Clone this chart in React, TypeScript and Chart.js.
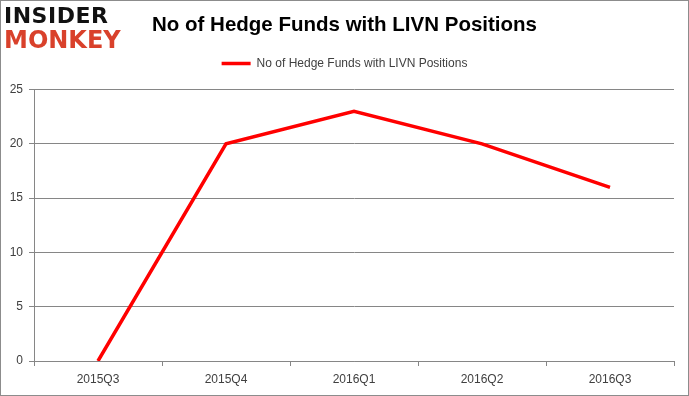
import React, { useEffect, useRef } from "react";
import { Chart, registerables } from "chart.js";

Chart.register(...registerables);

const categories = ["2015Q3", "2015Q4", "2016Q1", "2016Q2", "2016Q3"];
const fundCounts = [0, 20, 23, 20, 16];
const seriesLabel = "No of Hedge Funds with LIVN Positions";
const chartTitle = "No of Hedge Funds with LIVN Positions";
const yMax = 25;
const yStep = 5;

const FONT = "'Liberation Sans', Arial, sans-serif";
const GRID = "#868686";
const TEXT = "#404040";

export default function App() {
  const ref = useRef<HTMLCanvasElement | null>(null);

  useEffect(() => {
    document.body.style.margin = "0";
    const canvas = ref.current;
    if (!canvas) return;
    const legendSpacer = {
      id: "legendSpacer",
      beforeInit(chart: any) {
        const orig = chart.legend.fit;
        chart.legend.fit = function () {
          orig.call(this);
          this.height += 10;
        };
      },
    };
    const chart = new Chart(canvas, {
      type: "line",
      data: {
        labels: categories,
        datasets: [
          {
            label: seriesLabel,
            data: fundCounts,
            borderColor: "#ff0000",
            backgroundColor: "#ff0000",
            borderWidth: 3.5,
            pointRadius: 0,
            tension: 0,
          },
        ],
      },
      plugins: [legendSpacer],
      options: {
        responsive: false,
        animation: false,
        devicePixelRatio: 1,
        layout: { padding: 0 },
        plugins: {
          title: {
            display: true,
            text: chartTitle,
            color: "#000000",
            font: { family: FONT, size: 20.5, weight: "bold" },
            padding: { top: 13, bottom: 10 },
          },
          legend: {
            display: true,
            position: "top",
            labels: {
              usePointStyle: true,
              pointStyle: "line",
              pointStyleWidth: 29,
              color: TEXT,
              font: { family: FONT, size: 12 },
              padding: 10,
            },
          },
          tooltip: { enabled: false },
        },
        scales: {
          x: {
            offset: true,
            grid: {
              offset: true,
              drawOnChartArea: false,
              drawTicks: true,
              tickLength: 5,
              color: GRID,
            },
            border: { display: true, color: GRID, width: 1 },
            ticks: {
              color: TEXT,
              font: { family: FONT, size: 12 },
              padding: 6,
              maxRotation: 0,
              autoSkip: false,
            },
            afterFit(scale: any) {
              scale.height = 35;
            },
          },
          y: {
            min: 0,
            max: yMax,
            grid: { color: GRID, tickLength: 5, drawTicks: true },
            border: { display: true, color: GRID, width: 1 },
            ticks: {
              stepSize: yStep,
              color: TEXT,
              font: { family: FONT, size: 12 },
              padding: 6,
            },
            afterFit(scale: any) {
              scale.width = 34;
            },
          },
          yRightSpace: {
            type: "linear",
            position: "right",
            display: true,
            min: 0,
            max: yMax,
            grid: { display: false, drawOnChartArea: false, drawTicks: false },
            border: { display: false },
            ticks: { display: false },
            afterFit(scale: any) {
              scale.width = 15;
            },
          },
        },
      },
    });
    return () => chart.destroy();
  }, []);

  const logoBase: React.CSSProperties = {
    position: "absolute",
    left: 4,
    fontFamily: "'DejaVu Sans', sans-serif",
    fontWeight: 900,
    whiteSpace: "nowrap",
    pointerEvents: "none",
  };

  return (
    <div style={{ position: "fixed", left: 0, top: 0, width: 689, height: 396, background: "#fff" }}>
      <canvas ref={ref} width={689} height={396} style={{ display: "block" }} />
      <div style={{ ...logoBase, top: 5, fontSize: 22, lineHeight: "22px", color: "#111111", letterSpacing: 0.5 }}>
        INSIDER
      </div>
      <div style={{ ...logoBase, top: 28, fontSize: 24, lineHeight: "24px", color: "#d9412b", letterSpacing: 0 }}>
        MONKEY
      </div>
      <div
        style={{
          position: "absolute",
          inset: 0,
          border: "1px solid #8c8c8c",
          boxSizing: "border-box",
          pointerEvents: "none",
        }}
      />
    </div>
  );
}
